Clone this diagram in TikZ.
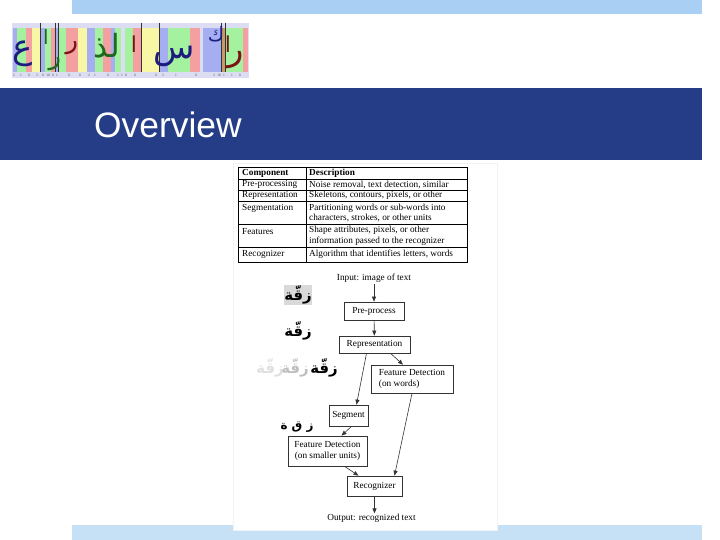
\documentclass[tikz,border=0pt]{standalone}
\usepackage{fontspec}
\setmainfont{Liberation Serif}
\newfontfamily\headfont{Liberation Sans}
\newfontfamily\arabicfont[Script=Arabic]{DejaVu Sans}
\TeXXeTstate=1
\usetikzlibrary{arrows.meta, positioning, calc}
\definecolor{band}{HTML}{253D87}
\definecolor{topbar}{HTML}{AACFF5}
\definecolor{botbar}{HTML}{C6E0F6}
\definecolor{segB}{HTML}{A6AEF2}
\definecolor{segG}{HTML}{A4F2A0}
\definecolor{segR}{HTML}{F4A0A0}
\definecolor{segY}{HTML}{F8F7A6}
\definecolor{segL}{HTML}{DCDDF2}
\definecolor{segO}{HTML}{C89A6A}
\definecolor{inkB}{HTML}{1C1C7E}
\definecolor{inkG}{HTML}{1D6A1D}
\definecolor{inkR}{HTML}{7A1414}

\begin{document}
\begin{tikzpicture}[x=1bp, y=-1bp,
  >={Triangle[length=5bp, width=4bp]},
  box/.style={draw=black!80, line width=0.7bp, fill=white, align=center,
    inner sep=1bp, font=\fontsize{9.3}{10.5}\selectfont},
  lbl/.style={inner sep=0.5bp, font=\fontsize{9.3}{10.5}\selectfont},
  cell/.style={anchor=west, inner sep=0pt, align=left, font=\fontsize{9.3}{10.5}\selectfont},
  head/.style={cell, font=\fontsize{9.3}{10.5}\selectfont\bfseries},
  arw/.style={->, draw=black!80, line width=0.6bp},
  ink/.style={font=\arabicfont\fontsize{#1}{#1}\selectfont, inner sep=0pt},
  word/.style={font=\arabicfont\bfseries\fontsize{15}{15}\selectfont, inner sep=0.5bp}
]
\useasboundingbox (0,0) rectangle (720,540);

% slide
\fill[topbar] (72,0) rectangle (702,14.5);
\fill[band] (0,88) rectangle (702,160.5);
\fill[botbar] (72,525) rectangle (702,540);
\node[anchor=base west, inner sep=0pt, text=white,
  font=\headfont\fontsize{35.5}{40}\selectfont] (title) at (94,138) {Overview};

% segmented handwriting
\fill[segL] (12,23) rectangle (249,78);
\foreach \a/\b/\c in {13/17/segB, 17/26/segG, 26/32/segR, 32/40.5/segY,
  41/45/segB, 45/51/segG, 51/55/segR, 55/58/segB, 58/66/segG, 66/78/segR,
  78/87/segY, 87/95/segB, 95/103/segG, 103/111/segR, 111/115/segB,
  115/121/segG, 125/133/segG, 133/141/segR, 142/159/segY, 160/168/segB,
  168/190/segG, 190/200/segR, 203/221/segB, 221/225/segO, 225/243/segG,
  243/248/segR}
  \fill[\c] (\a,28) rectangle (\b,72);
\foreach \x in {40.7,55,58,141.5,159.5,221,225}
  \draw[black!80, line width=0.5bp] (\x,23) -- (\x,72);
\foreach \x/\n in {14/2, 21/1, 29/0, 37/3, 43/0, 48/10, 53/0, 57/1, 69/0,
  80/0, 89/2, 95/1, 108/0, 118/1, 122/1, 126/0, 135/0, 156/0, 163/2, 176/1,
  196/0, 214/3, 219/10, 224/1, 232/1, 240/0}
  \node[font=\fontsize{3.5}{4}\selectfont, inner sep=0pt, text=black!70] (d\x) at (\x,75.5) {\n};
\node[ink=34, text=inkB] (l1) at (23,54) {ع};
\node[ink=20, text=inkG] (l2) at (46,37) {ا};
\node[ink=26, text=inkG] (l3) at (55,64) {ر};
\node[ink=26, text=inkR] (l4) at (72,48) {ر};
\node[ink=32, text=inkG] (l5) at (107,46) {\beginR لذ\endR};
\node[ink=22, text=inkR] (l6) at (134,44) {ا};
\node[ink=34, text=inkB] (l7) at (174,56) {س};
\node[ink=20, text=inkB] (l8) at (216,34) {ك};
\node[ink=22, text=inkR] (l9) at (228,44) {ا};
\node[ink=34, text=inkR] (l10) at (236,60) {ر};

% panel and table
\filldraw[fill=white, draw=black!5] (233,163) rectangle (497,530);
\draw[line width=0.8bp] (238,167) rectangle (467,262);
\draw[line width=0.8bp] (306,167) -- (306,262);
\foreach \y in {179,190,201,224,247}
  \draw[line width=0.8bp] (238,\y) -- (467,\y);
\node[head] (c0) at (242,173) {Component};
\node[head] (d0) at (309,173) {Description};
\node[cell] (c1) at (242,184.5) {Pre-processing};
\node[cell] (d1) at (309,184.5) {Noise removal, text detection, similar};
\node[cell] (c2) at (242,195.5) {Representation};
\node[cell] (d2) at (309,195.5) {Skeletons, contours, pixels, or other};
\node[cell] (c3) at (242,208.5) {Segmentation};
\node[cell] (d3) at (309,213) {Partitioning words or sub-words into\\characters, strokes, or other units};
\node[cell] (c4) at (242,231.5) {Features};
\node[cell] (d4) at (309,236) {Shape attributes, pixels, or other\\information passed to the recognizer};
\node[cell] (c5) at (242,254.5) {Recognizer};
\node[cell] (d5) at (309,254.5) {Algorithm that identifies letters, words};

% pipeline
\node[box, minimum width=60bp, minimum height=18bp] (pre) at (374,311) {Pre-process};
\node[box, minimum width=71bp, minimum height=17bp] (rep) at (374.5,344.5) {Representation};
\node[box, minimum width=82bp, minimum height=28bp, align=left] (fdw) at (412,379) {Feature Detection\\(on words)};
\node[box, minimum width=39bp, minimum height=21bp] (seg) at (348.5,415.5) {Segment};
\node[box, minimum width=79bp, minimum height=30bp] (fds) at (327.5,451) {Feature Detection\\(on smaller units)};
\node[box, minimum width=55bp, minimum height=20bp] (rec) at (374.5,486) {Recognizer};
\node[lbl, above=18bp of pre] (input) {Input: image of text};
\node[lbl, below=17bp of rec, xshift=-3bp] (output) {Output: recognized text};

\draw[arw] (input) -- (pre);
\draw[arw] (pre) -- (rep);
\draw[arw] ([xshift=-8bp]rep.south) -- ([xshift=8bp]seg.north);
\draw[arw] ([xshift=16bp]rep.south) -- ([xshift=-9bp]fdw.north);
\draw[arw] ([xshift=3bp]seg.south) -- ([xshift=14bp]fds.north);
\draw[arw] ([xshift=17bp]fds.south) -- ([xshift=-16bp]rec.north);
\draw[arw] (fdw.south) -- ([xshift=20bp]rec.north);
\draw[arw] (rec) -- (rec |- output.north);

% word samples
\node[word, fill=black!15] (w1) at (298,295) {زقّة};
\node[word] (w2) at (298,331) {زقّة};
\node[word, text=black!12] (w3) at (270,368) {زقّة};
\node[word, text=black!25] (w4) at (295,368) {زقّة};
\node[word] (w5) at (324,368) {زقّة};
\node[word, font=\arabicfont\bfseries\fontsize{12}{12}\selectfont] (w6) at (297,427) {\beginR ز ق ة\endR};
\end{tikzpicture}
\end{document}
